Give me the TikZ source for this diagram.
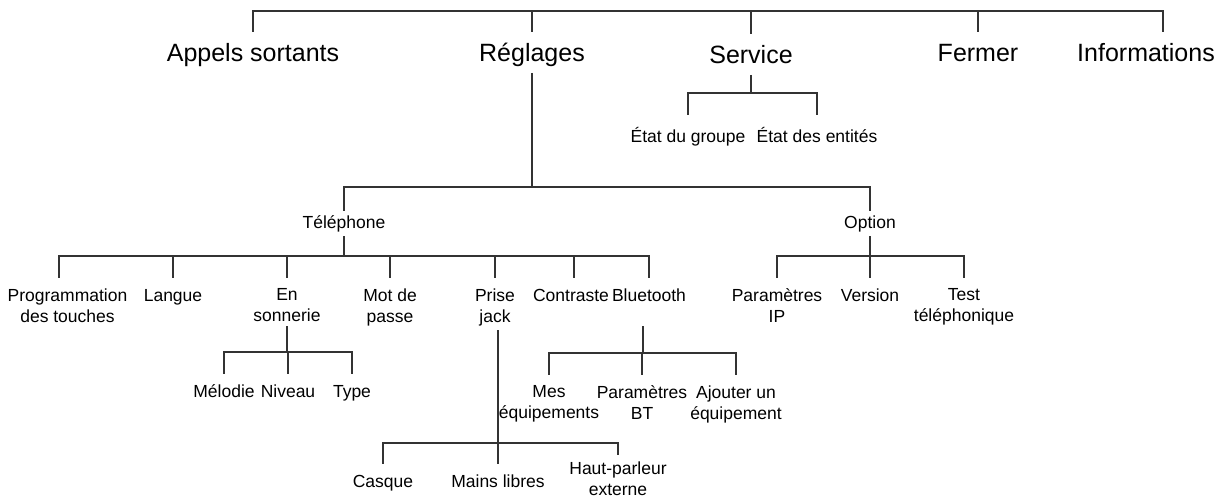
\documentclass[tikz,border=0pt]{standalone}
\usepackage{fontspec}
\setmainfont{Liberation Sans}
\begin{document}
\begin{tikzpicture}[x=0.5pt, y=-0.5pt, line width=0.55pt,
    big/.style={font=\fontsize{12.5pt}{15pt}\selectfont, inner sep=3pt, text height=9pt, text depth=2.6pt, anchor=base},
    small/.style={font=\fontsize{8.75pt}{10.5pt}\selectfont, inner sep=2pt, anchor=north, align=center},
    one/.style={text height=6.3pt, text depth=1.85pt},
    line/.style={draw=black!80},
    drop/.style={line, shorten >=3pt}]
    \useasboundingbox (0,0) rectangle (1224,499);

    % 1. Menu principal
    \coordinate (top) at (532,11);
    \node[big] (appels) at (253,61) {Appels sortants};
    \node[big] (regl) at (532,61) {Réglages};
    \node[big] (serv) at (751,63) {Service};
    \node[big] (fermer) at (978,61) {Fermer};
    \node[big] (infos) at (1146,61) {Informations};
    \draw[line, shorten >=2pt] (top) -| (appels.north);
    \draw[line, shorten >=2pt] (top) -| (regl.north);
    \draw[line, shorten >=2pt] (top) -| (serv.north);
    \draw[line, shorten >=2pt] (top) -| (fermer.north);
    \draw[line, shorten >=2pt] (top) -| ([xshift=8.5pt]infos.north);

    % 2. Service
    \coordinate (servbar) at (751,93);
    \node[small, one] (etatg) at (688,125) {État du groupe};
    \node[small, one] (etate) at (817,125) {État des entités};
    \draw[line] (serv.south) -- (servbar);
    \draw[line, shorten >=5pt] (servbar) -| (etatg.north);
    \draw[line, shorten >=5pt] (servbar) -| (etate.north);

    % 3. Réglages
    \coordinate (reglbar) at (532,187);
    \node[small, one] (tel) at (344,211) {Téléphone};
    \node[small, one] (opt) at (870,211) {Option};
    \draw[line] (regl.south) -- (reglbar);
    \draw[line] (reglbar) -| (tel.north);
    \draw[line] (reglbar) -| (opt.north);

    % 4. Téléphone
    \coordinate (telbar) at (344,256);
    \node[small] (prog) at (67.5,284) {Programmation\\des touches};
    \node[small, one] (langue) at (173,284) {Langue};
    \node[small] (sonn) at (287,284) {En\\sonnerie};
    \node[small] (mdp) at (390,284) {Mot de\\passe};
    \node[small] (jack) at (495,284) {Prise\\jack};
    \node[small, one] (contr) at (571,284) {Contraste};
    \node[small, one] (bt) at (649,284) {Bluetooth};
    \draw[line] (tel.south) -- (telbar);
    \draw[drop] (telbar) -| ([xshift=-4.25pt]prog.north);
    \draw[drop] (telbar) -| (langue.north);
    \draw[drop] (telbar) -| (sonn.north);
    \draw[drop] (telbar) -| (mdp.north);
    \draw[drop] (telbar) -| (jack.north);
    \draw[drop] (telbar) -| ([xshift=1.5pt]contr.north);
    \draw[drop] (telbar) -| (bt.north);

    % 5. Option
    \coordinate (optbar) at (870,256);
    \node[small] (parip) at (777,284) {Paramètres\\IP};
    \node[small, one] (vers) at (870,284) {Version};
    \node[small] (test) at (964,284) {Test\\téléphonique};
    \draw[line] (opt.south) -- (optbar);
    \draw[drop] (optbar) -| (parip.north);
    \draw[drop] (optbar) -| (vers.north);
    \draw[drop] (optbar) -| (test.north);

    % 6. En sonnerie
    \coordinate (sonbar) at (287,352);
    \node[small, one] (melo) at (224,380) {Mélodie};
    \node[small, one] (niv) at (288,380) {Niveau};
    \node[small, one] (type) at (352,380) {Type};
    \draw[line] (sonn.south) -- (sonbar);
    \draw[drop] (sonbar) -| (melo.north);
    \draw[drop] (sonbar) -| (niv.north);
    \draw[drop] (sonbar) -| (type.north);

    % 7. Bluetooth
    \coordinate (btbar) at (643,353);
    \node[small] (mes) at (549,381) {Mes\\équipements};
    \node[small] (parbt) at (642,381) {Paramètres\\BT};
    \node[small] (ajout) at (736,381) {Ajouter un\\équipement};
    \draw[line, shorten <=8.5pt] (btbar |- bt.south) -- (btbar);
    \draw[drop] (btbar) -| (mes.north);
    \draw[drop] (btbar) -| (parbt.north);
    \draw[drop] (btbar) -| (ajout.north);

    % 8. Prise jack
    \coordinate (jackbar) at (498,443);
    \node[small, one] (casque) at (383,470) {Casque};
    \node[small, one] (mains) at (498,470) {Mains libres};
    \node[small] (hp) at (618,457) {Haut-parleur\\externe};
    \draw[line] (jackbar |- jack.south) -- (jackbar);
    \draw[drop] (jackbar) -| (casque.north);
    \draw[drop] (jackbar) -| (mains.north);
    \draw[line, shorten >=1pt] (jackbar) -| (hp.north);
\end{tikzpicture}
\end{document}
